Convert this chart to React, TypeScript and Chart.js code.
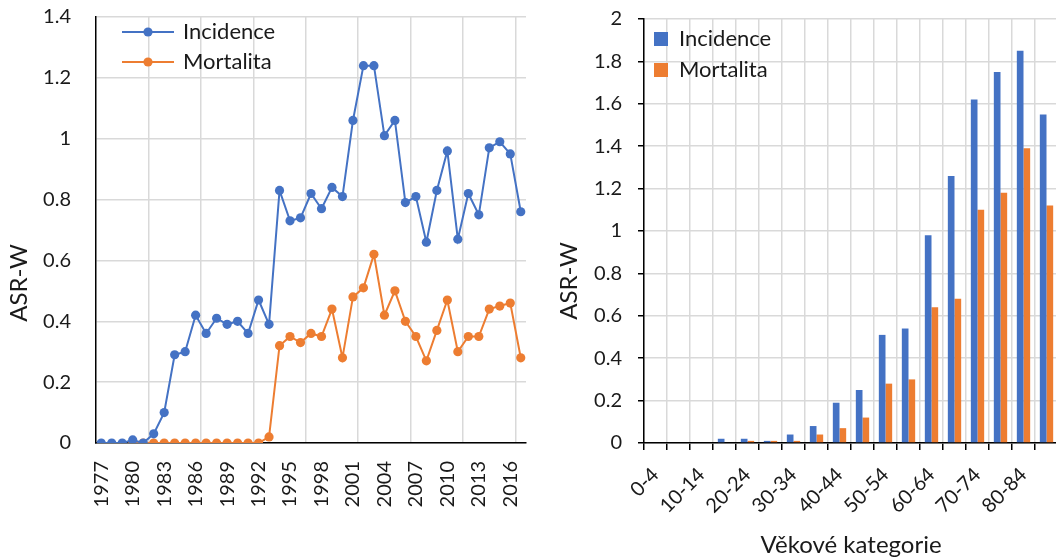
import React, { useEffect, useRef } from 'react';
import { Chart, registerables } from 'chart.js';

Chart.register(...registerables);

// ---------- Data: left chart (trend by year) ----------
const years = [
  '1977', '1978', '1979', '1980', '1981', '1982', '1983', '1984', '1985', '1986',
  '1987', '1988', '1989', '1990', '1991', '1992', '1993', '1994', '1995', '1996',
  '1997', '1998', '1999', '2000', '2001', '2002', '2003', '2004', '2005', '2006',
  '2007', '2008', '2009', '2010', '2011', '2012', '2013', '2014', '2015', '2016',
  '2017',
];
const shownYearLabels = [
  '1977', '1980', '1983', '1986', '1989', '1992', '1995', '1998', '2001', '2004',
  '2007', '2010', '2013', '2016',
];
const incidenceByYear = [
  0, 0, 0, 0.01, 0, 0.03, 0.1, 0.29, 0.3, 0.42,
  0.36, 0.41, 0.39, 0.4, 0.36, 0.47, 0.39, 0.83, 0.73, 0.74,
  0.82, 0.77, 0.84, 0.81, 1.06, 1.24, 1.24, 1.01, 1.06, 0.79,
  0.81, 0.66, 0.83, 0.96, 0.67, 0.82, 0.75, 0.97, 0.99, 0.95,
  0.76,
];
const mortalityByYear = [
  null, null, null, 0, 0, 0, 0, 0, 0, 0,
  0, 0, 0, 0, 0, 0, 0.02, 0.32, 0.35, 0.33,
  0.36, 0.35, 0.44, 0.28, 0.48, 0.51, 0.62, 0.42, 0.5, 0.4,
  0.35, 0.27, 0.37, 0.47, 0.3, 0.35, 0.35, 0.44, 0.45, 0.46,
  0.28,
];

// ---------- Data: right chart (by age group) ----------
const ageGroups = [
  '0-4', '5-9', '10-14', '15-19', '20-24', '25-29', '30-34', '35-39', '40-44',
  '45-49', '50-54', '55-59', '60-64', '65-69', '70-74', '75-79', '80-84', '85+',
];
const shownAgeLabels = ['0-4', '10-14', '20-24', '30-34', '40-44', '50-54', '60-64', '70-74', '80-84'];
const incidenceByAge = [0, 0, 0, 0.02, 0.02, 0.01, 0.04, 0.08, 0.19, 0.25, 0.51, 0.54, 0.98, 1.26, 1.62, 1.75, 1.85, 1.55];
const mortalityByAge = [0, 0, 0, 0, 0.01, 0.01, 0.01, 0.04, 0.07, 0.12, 0.28, 0.3, 0.64, 0.68, 1.1, 1.18, 1.39, 1.12];

const seriesNames = ['Incidence', 'Mortalita'];
const yAxisTitle = 'ASR-W';
const xAxisTitleRight = 'Věkové kategorie';

const BLUE = '#4472C4';
const ORANGE = '#ED7D31';
const GRID = '#d9d9d9';
const TEXT = '#1a1a1a';
const FONT = 'Lato';

const fmt = (v: number) => String(Number(Number(v).toFixed(1)));

const yTitlePlugin = {
  id: 'yTitle',
  afterDraw(chart: any, _args: any, opts: any) {
    const { ctx } = chart;
    ctx.save();
    ctx.translate(opts.x, opts.y);
    ctx.rotate(-Math.PI / 2);
    ctx.font = `${opts.size}px ${FONT}`;
    ctx.fillStyle = TEXT;
    ctx.textAlign = 'center';
    ctx.textBaseline = 'middle';
    ctx.fillText(opts.text, 0, 0);
    ctx.restore();
  },
};

// legend in chartArea has its top reset to 0 by Chart.js; place it explicitly
const legendShiftPlugin = {
  id: 'legendShift',
  afterLayout(chart: any, _args: any, opts: any) {
    const l = chart.legend;
    if (!l) return;
    l.left += opts.dx || 0;
    l.right += opts.dx || 0;
    l.top += opts.dy || 0;
    l.bottom += opts.dy || 0;
  },
};

function makeLineMarker(color: string) {
  const c = document.createElement('canvas');
  c.width = 52;
  c.height = 12;
  const g = c.getContext('2d')!;
  g.strokeStyle = color;
  g.lineWidth = 2;
  g.beginPath();
  g.moveTo(0, 6);
  g.lineTo(52, 6);
  g.stroke();
  g.fillStyle = color;
  g.beginPath();
  g.arc(26, 6, 4.6, 0, Math.PI * 2);
  g.fill();
  return c;
}

const fitX = (s: any) => { s.height = 117; s.paddingRight = 0; s.paddingLeft = 0; };
const fitY = (s: any) => { s.width = 96; s.paddingTop = 0; s.paddingBottom = 0; };

export default function App() {
  const leftRef = useRef<HTMLCanvasElement>(null);
  const rightRef = useRef<HTMLCanvasElement>(null);

  useEffect(() => {
    Chart.defaults.font.family = FONT;
    Chart.defaults.color = TEXT;
    const markers = [makeLineMarker(BLUE), makeLineMarker(ORANGE)];

    const left = new Chart(leftRef.current!, {
      type: 'line',
      data: {
        labels: years,
        datasets: [
          {
            label: seriesNames[0],
            data: incidenceByYear,
            borderColor: BLUE,
            backgroundColor: BLUE,
            pointBackgroundColor: BLUE,
            pointBorderColor: BLUE,
            borderWidth: 2,
            pointRadius: 4.6,
            pointBorderWidth: 0,
            tension: 0,
          },
          {
            label: seriesNames[1],
            data: mortalityByYear,
            borderColor: ORANGE,
            backgroundColor: ORANGE,
            pointBackgroundColor: ORANGE,
            pointBorderColor: ORANGE,
            borderWidth: 2,
            pointRadius: 4.6,
            pointBorderWidth: 0,
            tension: 0,
          },
        ],
      },
      options: {
        responsive: false,
        animation: false,
        layout: { padding: { left: 0, right: 14, top: 17, bottom: 0 } },
        plugins: {
          tooltip: { enabled: false },
          legend: {
            position: 'chartArea',
            align: 'start',
            labels: {
              usePointStyle: true,
              pointStyleWidth: 48,
              padding: 8,
              color: TEXT,
              font: { size: 22, family: FONT },
              generateLabels: (chart: any) => {
                const items = (Chart.defaults.plugins.legend.labels as any).generateLabels(chart);
                return items.map((it: any, i: number) => ({ ...it, pointStyle: markers[i], rotation: 0 }));
              },
            },
          },
          yTitle: { text: yAxisTitle, x: 19, y: 283, size: 24 },
          legendShift: { dx: 20, dy: 13 },
        } as any,
        scales: {
          x: {
            type: 'category',
            offset: true,
            afterFit: fitX,
            grid: {
              offset: true,
              drawTicks: false,
              lineWidth: 1.5,
              color: (ctx: any) => (ctx.index > 0 && ctx.index % 5 === 0 && ctx.index < years.length ? GRID : 'rgba(0,0,0,0)'),
            },
            border: { color: '#000', width: 1.5 },
            ticks: {
              autoSkip: false,
              minRotation: 90,
              maxRotation: 90,
              padding: 18,
              color: TEXT,
              font: { size: 20, family: FONT },
              callback: function (this: any, value: any) {
                const lab = this.getLabelForValue(value);
                return shownYearLabels.includes(lab) ? lab : '';
              },
            },
          },
          y: {
            min: 0,
            max: 1.4,
            afterFit: fitY,
            grid: { color: GRID, lineWidth: 1.5, drawTicks: false },
            border: { color: '#000', width: 1.5 },
            ticks: {
              stepSize: 0.2,
              padding: 25,
              color: TEXT,
              font: { size: 20, family: FONT },
              callback: (v: any) => fmt(v),
            },
          },
        },
      },
      plugins: [yTitlePlugin, legendShiftPlugin],
    } as any);

    const right = new Chart(rightRef.current!, {
      type: 'bar',
      data: {
        labels: ageGroups,
        datasets: [
          { label: seriesNames[0], data: incidenceByAge, backgroundColor: BLUE, borderWidth: 0, categoryPercentage: 0.58, barPercentage: 1 },
          { label: seriesNames[1], data: mortalityByAge, backgroundColor: ORANGE, borderWidth: 0, categoryPercentage: 0.58, barPercentage: 1 },
        ],
      },
      options: {
        responsive: false,
        animation: false,
        layout: { padding: { left: 0, right: 10, top: 19, bottom: 0 } },
        plugins: {
          tooltip: { enabled: false },
          legend: {
            position: 'chartArea',
            align: 'start',
            labels: {
              boxWidth: 14,
              boxHeight: 14,
              padding: 9,
              color: TEXT,
              font: { size: 22, family: FONT },
            },
          },
          yTitle: { text: yAxisTitle, x: 21, y: 281, size: 24 },
          legendShift: { dx: 1, dy: 19 },
        } as any,
        scales: {
          x: {
            type: 'category',
            offset: true,
            afterFit: fitX,
            grid: {
              offset: true,
              color: GRID,
              lineWidth: 1.5,
              drawTicks: true,
              tickLength: 7,
              tickColor: '#000',
            },
            border: { color: '#000', width: 1.5 },
            title: {
              display: true,
              text: xAxisTitleRight,
              color: TEXT,
              font: { size: 24, family: FONT },
              padding: { top: 0, bottom: 0 },
            },
            ticks: {
              autoSkip: false,
              minRotation: 45,
              maxRotation: 45,
              padding: 13,
              color: TEXT,
              font: { size: 20, family: FONT },
              callback: function (this: any, value: any) {
                const lab = this.getLabelForValue(value);
                return shownAgeLabels.includes(lab) ? lab : '';
              },
            },
          },
          y: {
            min: 0,
            max: 2,
            afterFit: fitY,
            grid: { color: GRID, lineWidth: 1.5, drawTicks: true, tickLength: 6, tickColor: '#000' },
            border: { color: '#000', width: 1.5 },
            ticks: {
              stepSize: 0.2,
              padding: 16,
              color: TEXT,
              font: { size: 20, family: FONT },
              callback: (v: any) => fmt(v),
            },
          },
        },
      },
      plugins: [yTitlePlugin, legendShiftPlugin],
    } as any);

    return () => {
      left.destroy();
      right.destroy();
    };
  }, []);

  return (
    <div style={{ position: 'fixed', left: 0, top: 0, width: 1056, height: 560, overflow: 'hidden', background: '#fff' }}>
      <div style={{ position: 'absolute', left: 0, top: 0, width: 540, height: 560 }}>
        <canvas ref={leftRef} width={540} height={560} style={{ display: 'block' }} />
      </div>
      <div style={{ position: 'absolute', left: 548, top: 0, width: 520, height: 560 }}>
        <canvas ref={rightRef} width={520} height={560} style={{ display: 'block' }} />
      </div>
    </div>
  );
}
